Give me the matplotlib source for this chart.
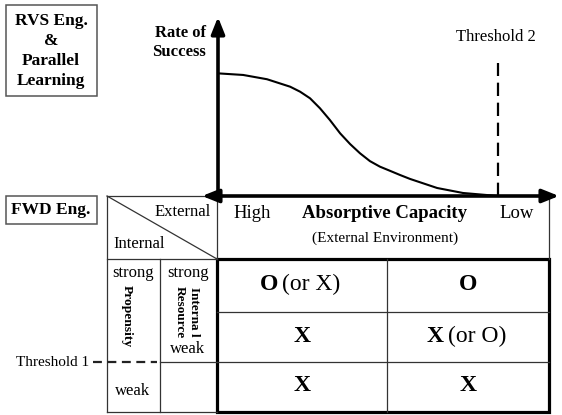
import matplotlib.pyplot as plt
from matplotlib.patches import Rectangle

plt.rcParams['font.family'] = ['Liberation Serif', 'DejaVu Serif']

# curve: absorptive capacity (0 = high, 100 = low) vs rate of success
capacity = [0, 7.6, 14.8, 21.8, 24.8, 27.8, 30.8, 33.8, 36.9, 39.9, 42.9,
            45.9, 48.9, 51.9, 55.0, 58.0, 66.2, 74.0, 84.6]
success = [68.9, 68.0, 65.6, 61.4, 58.6, 54.9, 49.3, 42.7, 35.2, 29.2, 24.0,
           19.6, 16.5, 14.2, 11.8, 9.6, 4.5, 1.7, 0]
threshold2 = 84.6
threshold2_top = 74.7

# table contents
col_heads = ['High', 'Low']
cell_text = [[('O', '(or X)'), ('O', '')],
             [('X', ''), ('X', '(or O)')],
             [('X', ''), ('X', '')]]

W, H = 562, 415
fig = plt.figure(figsize=(W / 100, H / 100), dpi=100)
ax = fig.add_axes([0, 0, 1, 1])
ax.set_xlim(0, W)
ax.set_ylim(H, 0)
ax.axis('off')

thin = dict(color='#333333', lw=0.9)

# left labels
ax.add_patch(Rectangle((6, 5), 91, 91, fill=False, ec='#555555', lw=1.1))
ax.text(51, 51, 'RVS Eng.\n&\nParallel\nLearning', ha='center', va='center',
        fontsize=12.5, fontweight='bold', linespacing=1.32)
ax.add_patch(Rectangle((6, 196), 91, 28, fill=False, ec='#555555', lw=1.1))
ax.text(51, 210, 'FWD Eng.', ha='center', va='center', fontsize=12.5, fontweight='bold')

# curve panel
cax = fig.add_axes([218 / W, (H - 196) / H, (549 - 218) / W, (196 - 18) / H])
cax.set_xlim(0, 100)
cax.set_ylim(0, 100)
cax.axis('off')
cax.plot(capacity, success, color='black', lw=1.5, solid_joinstyle='round')
cax.plot([threshold2, threshold2], [0, threshold2_top], color='black', lw=1.6,
         linestyle=(0, (6, 3)))

ax.annotate('', xy=(218, 17), xytext=(218, 197),
            arrowprops=dict(arrowstyle='-|>,head_length=0.5,head_width=0.2',
                            lw=2.6, color='black', mutation_scale=20,
                            shrinkA=0, shrinkB=0))
ax.annotate('', xy=(559, 196), xytext=(202, 196),
            arrowprops=dict(arrowstyle='<|-|>,head_length=0.5,head_width=0.2',
                            lw=2.6, color='black', mutation_scale=20,
                            shrinkA=0, shrinkB=0))
ax.text(206, 33, 'Rate of', ha='right', va='center', fontsize=12, fontweight='bold')
ax.text(206, 52, 'Success', ha='right', va='center', fontsize=12, fontweight='bold')
ax.text(496, 37, 'Threshold 2', ha='center', va='center', fontsize=12)

# table frame
ax.plot([107, 217], [196, 196], **thin)
ax.plot([107, 107], [196, 412], **thin)
ax.plot([217, 217], [196, 259], **thin)
ax.plot([549, 549], [196, 259], **thin)
ax.plot([107, 217], [196, 259], **thin)
ax.plot([107, 217], [259, 259], **thin)
ax.plot([160, 160], [259, 412], **thin)
ax.plot([107, 217], [412, 412], **thin)
ax.plot([160, 217], [362, 362], **thin)
ax.plot([93, 157], [362, 362], color='#222222', lw=1.6, linestyle=(0, (4, 2.5)))
ax.text(89, 362, 'Threshold 1', ha='right', va='center', fontsize=11)

ax.plot([217, 549], [312, 312], **thin)
ax.plot([217, 549], [362, 362], **thin)
ax.plot([387, 387], [259, 412], **thin)
ax.add_patch(Rectangle((217, 259), 332, 153, fill=False, ec='black', lw=2.3))

# header texts
ax.text(211, 212, 'External', ha='right', va='center', fontsize=12)
ax.text(113, 244, 'Internal', ha='left', va='center', fontsize=12)
ax.text(252, 213, col_heads[0], ha='center', va='center', fontsize=13.5)
ax.text(517, 213, col_heads[1], ha='center', va='center', fontsize=13.5)
ax.text(385, 213, 'Absorptive Capacity', ha='center', va='center',
        fontsize=13.5, fontweight='bold')
ax.text(385, 238, '(External Environment)', ha='center', va='center', fontsize=11)

# side labels
ax.text(133, 273, 'strong', ha='center', va='center', fontsize=12)
ax.text(188, 273, 'strong', ha='center', va='center', fontsize=12)
ax.text(127, 316, 'Propensity', ha='center', va='center', rotation=270,
        fontsize=9.7, fontweight='bold')
ax.text(187, 312, 'Interna l\nResource', ha='center', va='center', rotation=270,
        fontsize=9.5, fontweight='bold', linespacing=1.2)
ax.text(188, 349, 'weak', ha='center', va='center', fontsize=12)
ax.text(133, 391, 'weak', ha='center', va='center', fontsize=12)

# cells
col_x = [302, 468]
row_y = [284, 336, 385]
for r, row in enumerate(cell_text):
    for c, (mark, note) in enumerate(row):
        if note:
            ax.text(col_x[c] - 24, row_y[r], mark,
                    ha='right', va='center', fontsize=17, fontweight='bold')
            ax.text(col_x[c] - 20, row_y[r], note,
                    ha='left', va='center', fontsize=17)
        else:
            ax.text(col_x[c], row_y[r], mark, ha='center', va='center',
                    fontsize=17, fontweight='bold')

fig.savefig('out.png', dpi=100)
